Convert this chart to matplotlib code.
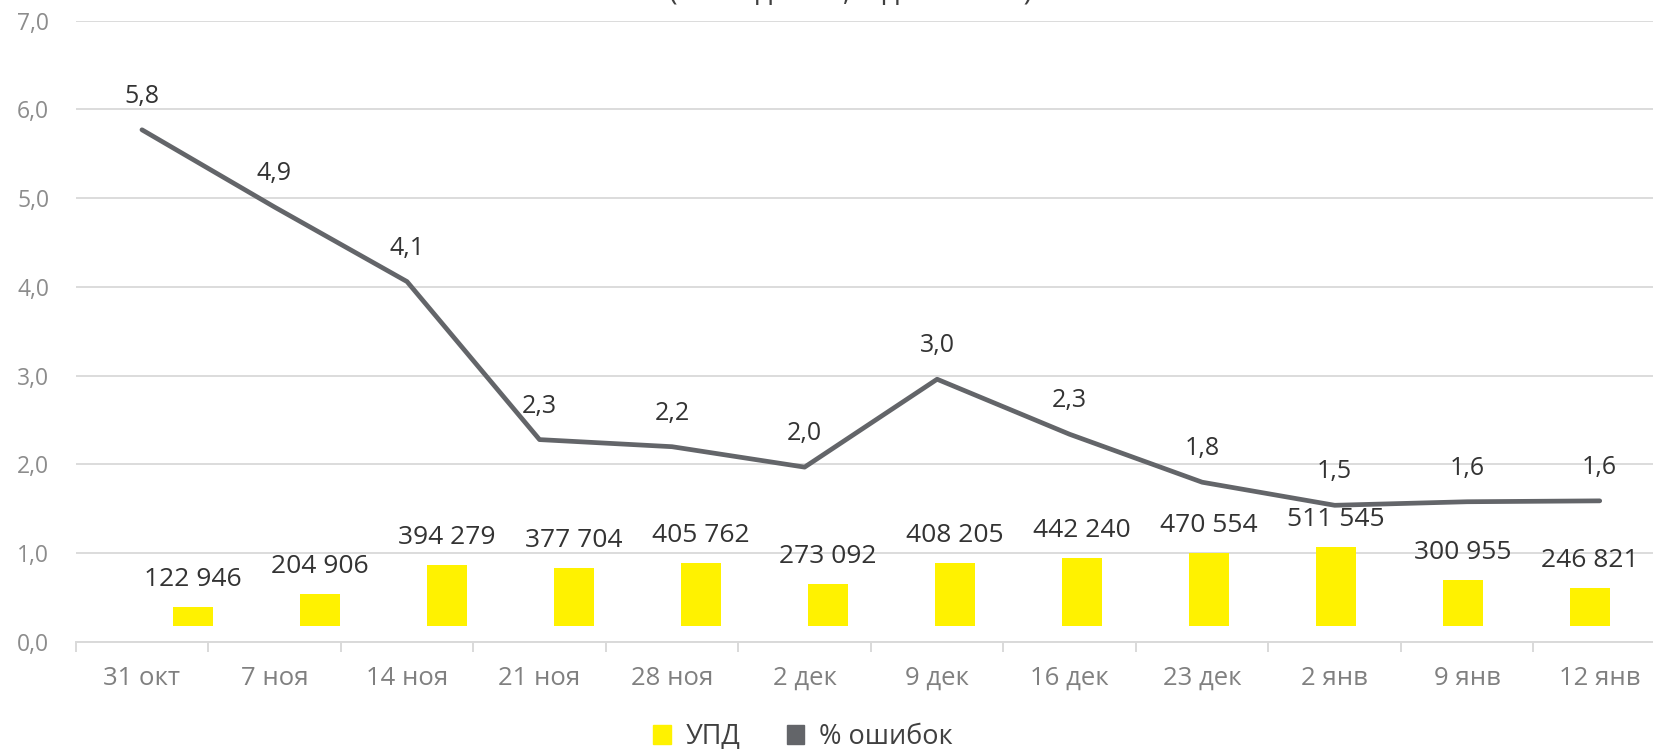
import numpy as np
import matplotlib
matplotlib.use('Agg')
import matplotlib.pyplot as plt
from matplotlib.patches import Patch
from matplotlib.ticker import FuncFormatter

plt.rcParams['font.family'] = ['Open Sans', 'DejaVu Sans']

dates = ['31 окт', '7 ноя', '14 ноя', '21 ноя', '28 ноя', '2 дек',
         '9 дек', '16 дек', '23 дек', '2 янв', '9 янв', '12 янв']
upd = [122946, 204906, 394279, 377704, 405762, 273092,
       408205, 442240, 470554, 511545, 300955, 246821]
err_pct = [5.77, 4.90, 4.06, 2.28, 2.20, 1.97, 2.96, 2.34, 1.80, 1.54, 1.58, 1.59]
title = '(по неделям, в динамике)'

W, H = 1653, 749
fig = plt.figure(figsize=(W / 100, H / 100), dpi=100)
rect = [75.7 / W, (H - 642) / H, (1666 - 75.7) / W, (642 - 20.6) / H]

# основная ось: % ошибок
ax = fig.add_axes(rect)
x = np.arange(len(dates))
ax.set_xlim(-0.5, len(dates) - 0.5)
ax.set_ylim(0, 7)
ax.set_yticks(np.arange(0, 8))
ax.yaxis.set_major_formatter(FuncFormatter(lambda v, p: f'{v:.1f}'.replace('.', ',')))
ax.grid(axis='y', color='#dcdcdc', lw=1.4)
ax.set_axisbelow(True)
for s in ['top', 'right', 'left']:
    ax.spines[s].set_visible(False)
ax.spines['bottom'].set_color('#d9d9d9')
ax.spines['bottom'].set_linewidth(1.4)
ax.set_xticks(x)
ax.set_xticklabels(dates)
ax.set_xticks(np.arange(-0.5, len(dates), 1), minor=True)
ax.tick_params(axis='x', which='major', length=0, pad=17, labelsize=18.5, labelcolor='#808080')
ax.tick_params(axis='x', which='minor', length=7, width=1.4, color='#d9d9d9')
ax.tick_params(axis='y', length=0, pad=19, labelsize=16.5, labelcolor='#8c8c8c')

ax.plot(x, err_pct, color='#636569', lw=3.4, solid_capstyle='round',
        solid_joinstyle='round', zorder=3)
for xi, v in zip(x, err_pct):
    ax.annotate(f'{v:.1f}'.replace('.', ','), (xi, v), xytext=(0, 24),
                textcoords='offset points', ha='center', va='center',
                fontsize=18, color='#333333')

# вторая ось: УПД
ax_b = fig.add_axes(rect, zorder=2)
ax_b.patch.set_visible(False)
ax_b.axis('off')
ax_b.set_xlim(-0.924, 11.6)
ax_b.set_ylim(-103600, 3920000)
ax_b.bar(x, upd, width=0.311, color='#FFF200')
for xi, v in zip(x, upd):
    ax_b.annotate(f'{v:,}'.replace(',', ' '), (xi, v), xytext=(0, 19.8),
                  textcoords='offset points', ha='center', va='center',
                  fontsize=19, color='#333333')

fig.text(851 / W, 1.0, title, ha='center', va='baseline', fontsize=21, color='#404040')

handles = [Patch(color='#FFF200', label='УПД'), Patch(color='#636569', label='% ошибок')]
fig.legend(handles=handles, loc='center', bbox_to_anchor=(803 / W, 1 - 737 / H),
           ncol=2, frameon=False, fontsize=19.5, handlelength=0.65, handleheight=0.65,
           handletextpad=0.55, columnspacing=1.7, labelcolor='#404040')

fig.savefig('out.png', dpi=100)
